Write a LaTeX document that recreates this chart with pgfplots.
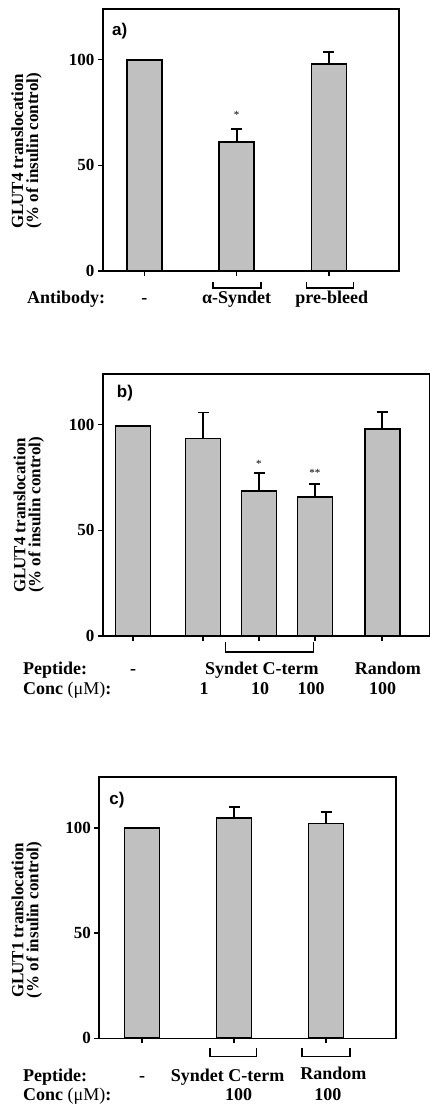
\documentclass[border=0pt]{standalone}
\usepackage{fontspec}
\setmainfont{Liberation Serif}
\newfontfamily\panelfont{Liberation Sans}
\usepackage{pgfplots}
\pgfplotsset{compat=1.18}

\definecolor{barfill}{RGB}{192,192,192}

\pgfplotsset{
  glut/.style={
    scale only axis,
    anchor=south west,
    ymin=0, ymax=124,
    ytick={0,50,100},
    axis line style={line width=1.6pt},
    tick style={line width=1.4pt, black},
    major tick length=5pt,
    tick align=outside,
    xtick pos=lower, ytick pos=left,
    xticklabels={},
    yticklabel style={font=\fontsize{17}{17}\selectfont\bfseries},
    /pgf/number format/assume math mode=true,
    ylabel style={font=\fontsize{17}{15}\selectfont\bfseries, align=center, anchor=center},
    ybar, bar width=35pt,
    clip=false,
  },
  glutbar/.style={fill=barfill, draw=black, line width=1.7pt,
    error bars/.cd, y dir=plus, y explicit,
    error bar style={line width=1.7pt, black},
    error mark options={rotate=90, mark size=5.5pt, line width=1.7pt, black}},
}
\tikzset{
  lab/.style={font=\fontsize{18}{18}\selectfont\bfseries, anchor=base, inner sep=0pt},
  panel/.style={font=\panelfont\bfseries\fontsize{17}{17}\selectfont, anchor=north west, inner sep=0pt},
  star/.style={font=\fontsize{11}{11}\selectfont, inner sep=0pt},
}
\newcommand{\glut}[1]{G\kern-0.6pt L\kern-1.2pt UT#1}

\begin{document}
\begin{tikzpicture}

% a) antibody
\begin{axis}[glut, at={(103pt,835pt)}, width=296pt, height=262pt,
  xmin=0.55, xmax=3.76, xtick={1,2,3},
  ylabel={\glut{4} translocation\\(\% of insulin control)},
  ylabel style={at={(axis description cs:-0.258,0.458)}}]
\addplot[glutbar] coordinates {
  (1,100) +- (0,0)
  (2,61.0) +- (0,6.3)
  (3,97.9) +- (0,5.7)
};
\node[panel] at ([xshift=9pt,yshift=-13.7pt]rel axis cs:0,1) {a)};
\node[star] at (axis cs:2,74) {*};
\draw[line width=1.4pt] ([yshift=-11pt]axis cs:1.742,0) -- ([yshift=-17pt]axis cs:1.742,0)
  -- ([yshift=-17pt]axis cs:2.264,0) -- ([yshift=-11pt]axis cs:2.264,0);
\draw[line width=1.4pt] ([yshift=-11pt]axis cs:2.754,0) -- ([yshift=-17pt]axis cs:2.754,0)
  -- ([yshift=-17pt]axis cs:3.264,0) -- ([yshift=-11pt]axis cs:3.264,0);
\node[lab, anchor=base west] at ([xshift=-76pt,yshift=-33pt]rel axis cs:0,0) {Antibody:};
\node[lab] at ([yshift=-33pt]axis cs:1,0) {-};
\node[lab] at ([yshift=-33pt]axis cs:2,0) {α-Syndet};
\node[lab] at ([yshift=-33pt]axis cs:3.03,0) {pre-bleed};
\end{axis}

% b) peptide dose
\begin{axis}[glut, at={(103pt,470pt)}, width=326.5pt, height=262pt,
  xmin=-0.536, xmax=5.295, xtick={0,1.25,2.25,3.25,4.45},
  ylabel={\glut{4} translocation\\(\% of insulin control)},
  ylabel style={at={(axis description cs:-0.227,0.462)}}]
\addplot[glutbar] coordinates {
  (0,99.5) +- (0,0)
  (1.25,93.4) +- (0,12.4)
  (2.25,68.6) +- (0,8.5)
  (3.25,65.7) +- (0,6.3)
  (4.45,98.0) +- (0,8.0)
};
\node[panel] at ([xshift=13.7pt,yshift=-11pt]rel axis cs:0,1) {b)};
\node[star] at (axis cs:2.25,81.5) {*};
\node[star] at (axis cs:3.25,77) {**};
\draw[line width=1.4pt] ([yshift=-6pt]axis cs:1.655,0) -- ([yshift=-16pt]axis cs:1.655,0)
  -- ([yshift=-16pt]axis cs:3.22,0) -- ([yshift=-6pt]axis cs:3.22,0);
\node[lab, anchor=base west] at ([xshift=-80pt,yshift=-39pt]rel axis cs:0,0) {Peptide:};
\node[lab, anchor=base west] at ([xshift=-80pt,yshift=-59pt]rel axis cs:0,0) {Conc {\mdseries(μM)}:};
\node[lab] at ([yshift=-39pt]axis cs:0,0) {-};
\node[lab] at ([yshift=-39pt]axis cs:2.3,0) {Syndet C-term};
\node[lab] at ([yshift=-39pt]axis cs:4.55,0) {Random};
\node[lab] at ([yshift=-59pt]axis cs:1.27,0) {1};
\node[lab] at ([yshift=-59pt]axis cs:2.27,0) {10};
\node[lab] at ([yshift=-59pt]axis cs:3.18,0) {100};
\node[lab] at ([yshift=-59pt]axis cs:4.46,0) {100};
\end{axis}

% c) GLUT1
\begin{axis}[glut, at={(99.3pt,67.7pt)}, width=296.7pt, height=261pt,
  xmin=0.536, xmax=3.76, xtick={1,2,3},
  ylabel={\glut{1} translocation\\(\% of insulin control)},
  ylabel style={at={(axis description cs:-0.244,0.453)}}]
\addplot[glutbar] coordinates {
  (1,100) +- (0,0)
  (2,104.8) +- (0,5.0)
  (3,102.0) +- (0,5.4)
};
\node[panel] at ([xshift=10pt,yshift=-14.4pt]rel axis cs:0,1) {c)};
\draw[line width=1.4pt] ([yshift=-10pt]axis cs:1.739,0) -- ([yshift=-18.4pt]axis cs:1.739,0)
  -- ([yshift=-18.4pt]axis cs:2.246,0) -- ([yshift=-10pt]axis cs:2.246,0);
\draw[line width=1.4pt] ([yshift=-10pt]axis cs:2.739,0) -- ([yshift=-18.4pt]axis cs:2.739,0)
  -- ([yshift=-18.4pt]axis cs:3.26,0) -- ([yshift=-10pt]axis cs:3.26,0);
\node[lab, anchor=base west] at ([xshift=-76.3pt,yshift=-43.4pt]rel axis cs:0,0) {Peptide:};
\node[lab, anchor=base west] at ([xshift=-76.3pt,yshift=-62.4pt]rel axis cs:0,0) {Conc {\mdseries(μM)}:};
\node[lab] at ([yshift=-43.4pt]axis cs:1,0) {-};
\node[lab] at ([yshift=-43.4pt]axis cs:1.93,0) {Syndet C-term};
\node[lab] at ([yshift=-41pt]axis cs:3.08,0) {Random};
\node[lab] at ([yshift=-62.4pt]axis cs:2.05,0) {100};
\node[lab] at ([yshift=-62.4pt]axis cs:3.02,0) {100};
\end{axis}

\pgfresetboundingbox
\path[use as bounding box] (0,0) rectangle (430pt,1106pt);
\end{tikzpicture}
\end{document}
